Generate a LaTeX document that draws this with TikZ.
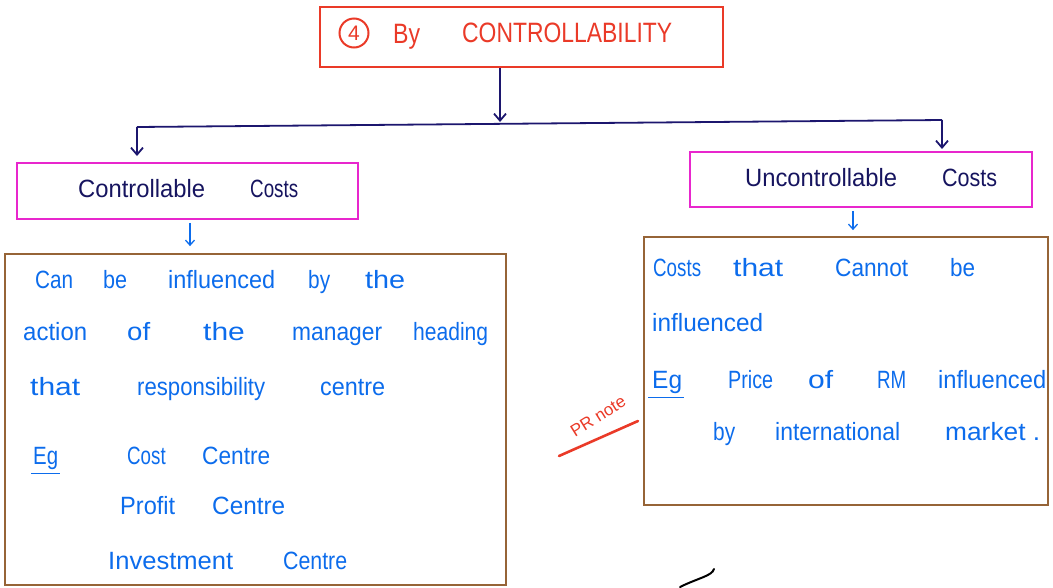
\documentclass[tikz,border=0pt]{standalone}
\usepackage{fontspec}
\setmainfont{Liberation Sans}
\usepackage{graphicx}
\usetikzlibrary{arrows.meta,calc}

\definecolor{titlered}{RGB}{234,58,40}
\definecolor{navyink}{RGB}{28,22,110}
\definecolor{headink}{RGB}{22,20,95}
\definecolor{boxpink}{RGB}{232,38,205}
\definecolor{boxbrown}{RGB}{150,100,55}
\definecolor{inkblue}{RGB}{12,108,236}

% scale a word horizontally towards a given width (in pt), within limits
\newsavebox\wbox
\newcommand\fitw[2]{\sbox\wbox{#2}%
  \pgfmathsetmacro\fitk{max(0.75,min(1.2,#1/\the\wd\wbox))}%
  \scalebox{\fitk}[1]{\usebox\wbox}}

\tikzset{
  wordstyle/.style={anchor=base west, inner sep=0pt, text=inkblue, font=\fontsize{25}{28}\selectfont},
  headword/.style={wordstyle, text=headink},
  titleword/.style={wordstyle, text=titlered, font=\fontsize{28}{32}\selectfont},
  framebox/.style={draw, line width=1.8pt, inner sep=0pt},
  navyarrow/.style={draw=navyink, line width=1.8pt, -{Straight Barb[length=7pt,width=12pt,line width=1.8pt]}},
  bluearrow/.style={draw=inkblue, line width=1.3pt, -{Straight Barb[length=5pt,width=9pt,line width=1.3pt]}},
  egline/.style={draw=inkblue, line width=1.6pt},
}
\newcommand\word[5][wordstyle]{\node[#1] (#2) at (#3) {\fitw{#4}{#5}};}

\begin{document}
\begin{tikzpicture}[x=1pt,y=-1pt]
\useasboundingbox (0,0) rectangle (1053,587);

% boxes
\node[framebox, draw=titlered, minimum width=403pt, minimum height=60pt] (top) at (521.5,37) {};
\node[framebox, draw=boxpink, minimum width=341pt, minimum height=56pt] (ctrl) at (187.5,191) {};
\node[framebox, draw=boxpink, minimum width=342pt, minimum height=55pt] (unctrl) at (861,179.5) {};
\node[framebox, draw=boxbrown, minimum width=501pt, minimum height=331pt] (cbox) at (255.5,419.5) {};
\node[framebox, draw=boxbrown, minimum width=404pt, minimum height=268pt] (ubox) at (846,371) {};

% title
\node[draw=titlered, circle, line width=2pt, inner sep=2pt, minimum size=29pt, text=titlered,
      font=\fontsize{21}{24}\selectfont] (num) at (354,33) {4};
\word[titleword]{tby}{393,43}{27}{By}
\word[titleword]{tctrl}{462,42}{210}{CONTROLLABILITY}

% tree connectors
\coordinate (jn) at (500,122);
\coordinate (hl) at (137,127);
\coordinate (hr) at (942,120);
\coordinate (hlend) at (137,156);
\coordinate (hrend) at (942,149);
\draw[navyarrow] ($(top.south)+(-21.5,0)$) -- (jn);
\draw[draw=navyink, line width=1.8pt] (hl) -- (hr);
\draw[navyarrow] (hl) -- (hlend);
\draw[navyarrow] (hr) -- (hrend);

% headings
\word[headword]{hc1}{78,197}{127}{Controllable}
\word[headword]{hc2}{250,197}{48}{Costs}
\word[headword]{hu1}{745,186}{152}{Uncontrollable}
\word[headword]{hu2}{942,186}{55}{Costs}

% small arrows into the text boxes
\draw[bluearrow] ($(ctrl.south)+(2.5,3)$) -- ($(cbox.north)+(-65.5,-7)$);
\draw[bluearrow] ($(unctrl.south)+(-8,3)$) -- ($(ubox.north)+(7,-6)$);

% controllable costs text
\word{a1}{35,288}{38}{Can}
\word{a2}{103,288}{24}{be}
\word{a3}{168,288}{107}{influenced}
\word{a4}{308,288}{22}{by}
\word{a5}{365,288}{40}{the}
\word{b1}{23,340}{64}{action}
\word{b2}{127,340}{23}{of}
\word{b3}{203,340}{42}{the}
\word{b4}{292,340}{90}{manager}
\word{b5}{413,340}{75}{heading}
\word{c1}{30,395}{52}{that}
\word{c2}{137,395}{128}{responsibility}
\word{c3}{320,395}{65}{centre}
\word{eg1}{33,464}{25}{Eg}
\draw[egline] ($(eg1.south west)+(-2,4)$) -- ($(eg1.south east)+(2,4)$);
\word{d1}{127,464}{35}{Cost}
\word{d2}{202,464}{68}{Centre}
\word{e1}{120,514}{55}{Profit}
\word{e2}{212,514}{73}{Centre}
\word{f1}{108,569}{125}{Investment}
\word{f2}{283,569}{64}{Centre}

% uncontrollable costs text
\word{g1}{653,276}{37}{Costs}
\word{g2}{733,276}{52}{that}
\word{g3}{835,276}{73}{Cannot}
\word{g4}{950,276}{25}{be}
\word{h1}{652,331}{111}{influenced}
\word{eg2}{652,388}{30}{Eg}
\draw[egline] ($(eg2.south west)+(-4,4)$) -- ($(eg2.south east)+(2,4)$);
\word{i1}{728,388}{45}{Price}
\word{i2}{808,388}{27}{of}
\word{i3}{877,388}{28}{RM}
\word{i4}{938,388}{108}{influenced}
\word{j1}{713,440}{22}{by}
\word{j2}{775,440}{125}{international}
\word{j3}{945,440}{95}{market .}

% margin note
\node[text=titlered, font=\fontsize{17}{20}\selectfont, rotate=32, inner sep=0pt] (note) at (598,416) {PR note};
\coordinate (n1) at (559,456);
\coordinate (n2) at (638,421);
\draw[draw=titlered, line width=2.6pt, line cap=round] (n1) -- (n2);

% stray pen stroke
\coordinate (s1) at (680,587);
\coordinate (s2) at (714,569);
\draw[line width=2pt, line cap=round] (s1) .. controls (698,578) and (712,576) .. (s2);
\end{tikzpicture}
\end{document}
